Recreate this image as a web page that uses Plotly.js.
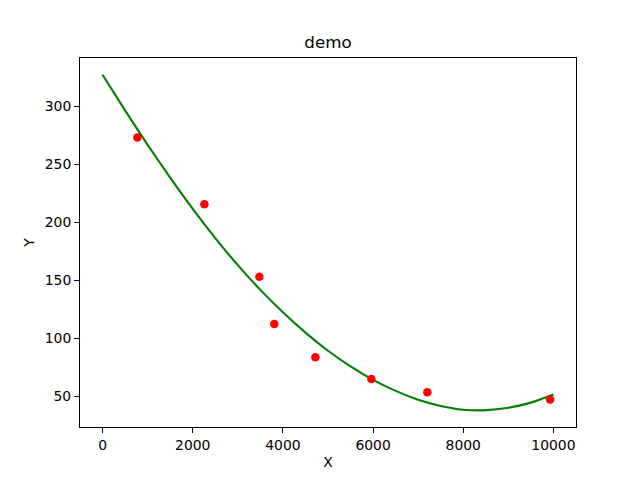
<!DOCTYPE html>
<html>
<head>
<meta charset="utf-8">
<script src="https://cdn.plot.ly/plotly-3.0.1.min.js"></script>
<style>html,body{margin:0;padding:0;background:#fff;}#chart{width:640px;height:480px;}</style>
</head>
<body>
<div id="chart"></div>
<script>
// Scatter data (red points)
const pointX = [772, 2258, 3478, 3810, 4720, 5962, 7204, 9926];
const pointY = [273.1, 215.7, 153.2, 112.5, 83.9, 65.2, 53.8, 47.4];

// Fitted curve samples (green line)
const curveX = [0, 500, 1000, 1500, 2000, 2500, 3000, 3500, 4000, 4500, 5000,
                5500, 6000, 6500, 7000, 7500, 8000, 8500, 9000, 9500, 10000];
const curveY = [327.2, 296.5, 266.8, 238.5, 211.6, 186.5, 163.2, 141.9, 122.6, 105.1, 89.5,
                76.0, 64.4, 54.9, 47.3, 41.9, 38.7, 38.3, 40.4, 44.8, 51.8];

// Tick values / labels
const xTicks = [0, 2000, 4000, 6000, 8000, 10000];
const yTicks = [50, 100, 150, 200, 250, 300];

const font = {family: 'DejaVu Sans, sans-serif', size: 13.9, color: '#000'};

const traces = [
  {
    x: curveX, y: curveY, type: 'scatter', mode: 'lines',
    line: {color: '#008000', width: 2.1, shape: 'spline', smoothing: 0.6},
    hoverinfo: 'skip'
  },
  {
    x: pointX, y: pointY, type: 'scatter', mode: 'markers',
    marker: {color: '#ff0000', size: 8.5, line: {width: 0}}
  }
];

const axisCommon = {
  showgrid: false, zeroline: false,
  showline: true, linecolor: '#000', linewidth: 1.1, mirror: true,
  ticks: 'outside', ticklen: 4.9, tickwidth: 1.1, tickcolor: '#000',
  tickfont: font, tickmode: 'array'
};

const layout = {
  width: 640, height: 480,
  paper_bgcolor: '#fff', plot_bgcolor: '#fff',
  showlegend: false,
  margin: {l: 80, r: 64, t: 57.6, b: 52.8, pad: 0},
  font: font,
  title: {
    text: 'demo', font: {family: 'DejaVu Sans, sans-serif', size: 16.7, color: '#000'},
    x: 0.5, xanchor: 'center', xref: 'paper',
    y: 1 - 42.5 / 480, yanchor: 'middle', yref: 'container'
  },
  xaxis: Object.assign({}, axisCommon, {
    range: [-500, 10500],
    tickvals: xTicks, ticktext: xTicks.map(String),
    title: {text: 'X', font: font, standoff: 5}
  }),
  yaxis: Object.assign({}, axisCommon, {
    range: [23.8, 341.6],
    tickvals: yTicks, ticktext: yTicks.map(String),
    title: {text: 'Y', font: font, standoff: 6}
  })
};

Plotly.newPlot('chart', traces, layout, {staticPlot: true, displayModeBar: false});
</script>
</body>
</html>
